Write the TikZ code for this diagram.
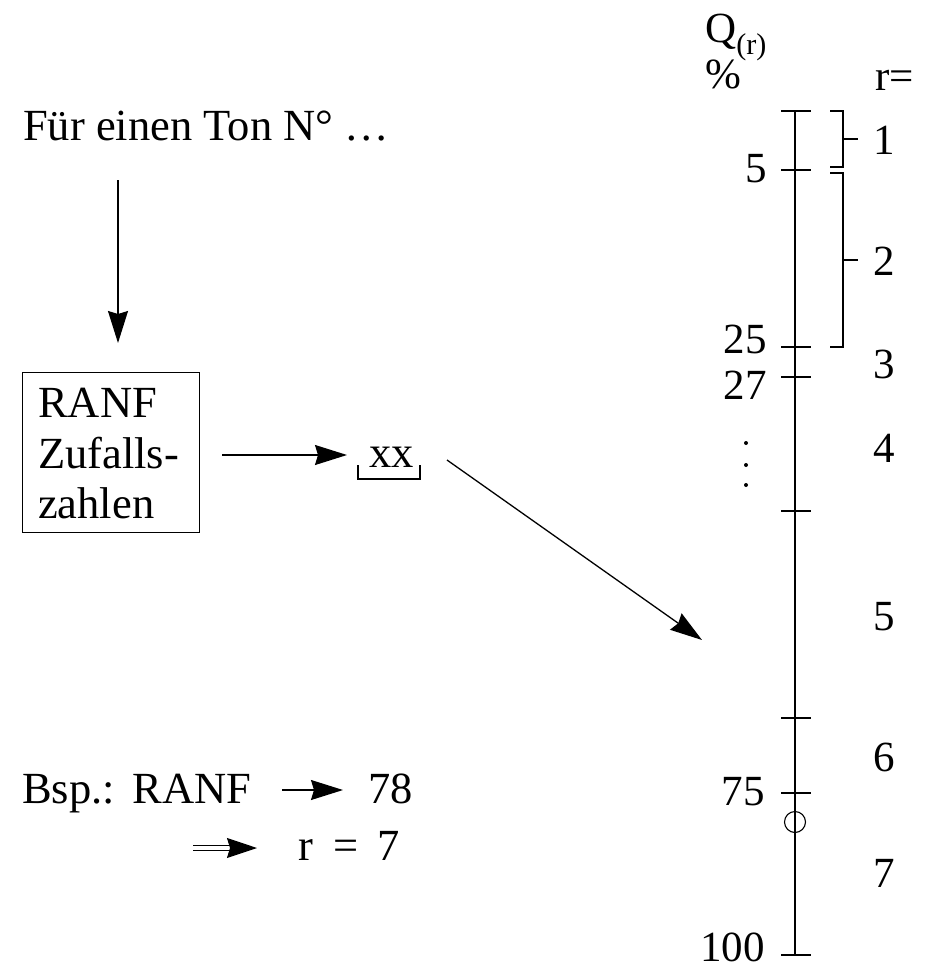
\documentclass[tikz,border=0pt]{standalone}
\usepackage{fontspec}
\setmainfont{Liberation Serif}
\usetikzlibrary{arrows.meta}
\begin{document}
\begin{tikzpicture}[x=1pt,y=-1pt,
  every node/.style={inner sep=0pt, font=\fontsize{43}{50}\selectfont},
  big/.style={font=\fontsize{44.5}{50}\selectfont},
  ln/.style={line width=1.3pt},
  tip/.tip={Stealth[length=32pt,width=20pt,inset=3pt]},
  arr/.style={line width=1.3pt, -tip},
  tick/.style={line width=1.3pt},
  numl/.style={anchor=base east},
  rlab/.style={anchor=center}]
\useasboundingbox (0,0) rectangle (933,972);
% left part
\node[big, anchor=base west] (title) at (23,140) {Für einen Ton N° …};
\coordinate (d1) at (118,180);
\coordinate (d2) at (118,343);
\draw[arr] (d1) -- (d2);
\node[draw, line width=1.1pt, anchor=north west, minimum width=177pt, minimum height=160pt] (box) at (22,372) {};
\node[big, anchor=base west] (b1) at (38,417) {RANF};
\node[big, anchor=base west] (b2) at (38,468) {Zufalls-};
\node[big, anchor=base west] (b3) at (38,518) {zahlen};
\coordinate (h1) at (222,455);
\coordinate (h2) at (347,455);
\draw[arr] (h1) -- (h2);
\node[big, anchor=base west] (xx) at (369,467) {xx};
\draw[line width=1.1pt] (358,465) -- (358,479) -- (420,479) -- (420,465);
\coordinate (g1) at (447,460);
\coordinate (g2) at (702,640);
\draw[arr] (g1) -- (g2);
% scale
\coordinate (top) at (795,111);
\coordinate (bot) at (795,955);
\draw[ln] (top) -- (bot);
\foreach \yy in {111,170,347,377,511,718,793,955}
  \draw[tick] (781,\yy) -- (811,\yy);
\node[draw, circle, line width=1.1pt, minimum size=21pt] (mark) at (795,822) {};
\node[numl] (n5) at (767,182) {5};
\node[numl] (n25) at (767,353) {25};
\node[numl] (n27) at (767,399) {27};
\node[numl] (n75) at (765,805) {75};
\node[numl] (n100) at (765,961) {100};
\foreach \yy in {443,465,485}
  \fill (746,\yy) circle (2pt);
% brackets
\draw[line width=1.1pt] (830,111) -- (843,111) -- (843,167) -- (830,167);
\draw[line width=1.1pt] (843,139) -- (858,139);
\draw[line width=1.1pt] (830,173) -- (843,173) -- (843,347) -- (830,347);
\draw[line width=1.1pt] (843,260) -- (858,260);
\node[rlab] (r1) at (884,140) {1};
\node[rlab] (r2) at (884,261) {2};
\node[rlab] (r3) at (884,364) {3};
\node[rlab] (r4) at (884,448) {4};
\node[rlab] (r5) at (884,617) {5};
\node[rlab] (r6) at (884,757) {6};
\node[rlab] (r7) at (884,873) {7};
% header
\node[anchor=base west] (q) at (705,42) {Q\textsubscript{(r)}};
\node[anchor=base west] (pc) at (705,88) {\%};
\node[anchor=base west] (req) at (875,90) {r=};
% example
\node[big, anchor=base west] (bsp) at (22,803) {Bsp.:\hspace{18pt}RANF};
\coordinate (e1) at (282,790);
\coordinate (e2) at (343,790);
\draw[arr] (e1) -- (e2);
\node[big, anchor=base west] (n78) at (368,803) {78};
\coordinate (f1) at (193,848);
\coordinate (fm) at (232,848);
\coordinate (f2) at (257,848);
\draw[line width=1.1pt] ([yshift=-2.5pt]f1) -- ([yshift=-2.5pt]fm);
\draw[line width=1.1pt] ([yshift=2.5pt]f1) -- ([yshift=2.5pt]fm);
\draw[line width=1.1pt, -{Stealth[length=30pt,width=20pt,inset=3pt]}] (fm) -- (f2);
\node[big, anchor=base west] (res) at (298,860) {r\hspace{21pt}=\hspace{18pt}7};
\end{tikzpicture}
\end{document}
